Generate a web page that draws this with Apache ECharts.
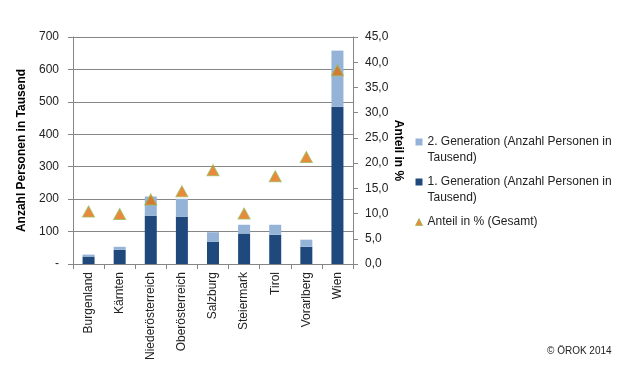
<!DOCTYPE html>
<html><head><meta charset="utf-8">
<script src="https://cdn.jsdelivr.net/npm/echarts@6/dist/echarts.min.js"></script>
<style>html,body{margin:0;padding:0;background:#fff}#c{width:626px;height:378px}</style>
</head><body><div id="c"></div>
<script>
var categories = ['Burgenland','Kärnten','Niederösterreich','Oberösterreich','Salzburg','Steiermark','Tirol','Vorarlberg','Wien'];
var gen1 = [23, 44, 149, 146, 69, 94, 90, 53, 485];
var gen2 = [6, 9, 59, 55, 29, 27, 31, 22, 173];
var anteil = [10.4, 9.9, 12.8, 14.4, 18.6, 10.0, 17.4, 21.2, 38.4];
var leftTicks = [0,100,200,300,400,500,600,700];
var rightTicks = [0,5,10,15,20,25,30,35,40,45];

var FONT = 'Liberation Sans';
var grey = '#868686';
var chart = echarts.init(document.getElementById('c'), null, {renderer:'canvas'});
chart.setOption({
  animation: false,
  textStyle: {fontFamily: FONT},
  grid: {left: 73, right: 273, top: 37, bottom: 114, containLabel: false},
  legend: {
    orient: 'vertical', left: 410, top: 113, itemGap: -8,
    itemWidth: 7, itemHeight: 7,
    textStyle: {fontFamily: FONT, fontSize: 12, color: '#222', lineHeight: 16},
    data: [
      {name: '2. Generation (Anzahl Personen in Tausend)', icon: 'rect'},
      {name: '1. Generation (Anzahl Personen in Tausend)', icon: 'rect'},
      {name: 'Anteil in % (Gesamt)', icon: 'triangle',
       itemStyle: {color: '#E46C0A', borderColor: '#9BBB59', borderWidth: 1}}
    ],
    formatter: function(n){
      if (n.indexOf('Generation') >= 0) return '\n' + n.replace(' Tausend', '\nTausend');
      return '\n' + n + '\n';
    }
  },
  xAxis: {
    type: 'category', data: categories,
    axisLine: {lineStyle: {color: grey}},
    axisTick: {show: true, alignWithLabel: false, length: 5, lineStyle: {color: grey}},
    axisLabel: {rotate: 90, interval: 0, color: '#222', fontSize: 12, margin: 8, fontFamily: FONT}
  },
  yAxis: [{
    type: 'value', min: 0, max: 700, interval: 100,
    name: 'Anzahl Personen in Tausend', nameLocation: 'middle', nameGap: 45,
    nameTextStyle: {fontWeight: 'bold', fontSize: 12, color: '#000', fontFamily: FONT},
    axisLine: {show: true, lineStyle: {color: grey}},
    axisTick: {show: true, length: 5, lineStyle: {color: grey}},
    splitLine: {show: true, lineStyle: {color: grey, width: 1}},
    axisLabel: {color: '#222', fontSize: 12, margin: 14, fontFamily: FONT,
      formatter: function(v){ return v === 0 ? '-' : String(v); }}
  }, {
    type: 'value', min: 0, max: 45, interval: 5, position: 'right',
    name: 'Anteil in %', nameLocation: 'middle', nameGap: 39, nameRotate: -90,
    nameTextStyle: {fontWeight: 'bold', fontSize: 12, color: '#000', fontFamily: FONT},
    axisLine: {show: true, lineStyle: {color: grey}},
    axisTick: {show: true, length: 5, lineStyle: {color: grey}},
    splitLine: {show: false},
    axisLabel: {color: '#222', fontSize: 12, margin: 12, fontFamily: FONT,
      formatter: function(v){ return v.toFixed(1).replace('.', ','); }}
  }],
  series: [{
    name: '1. Generation (Anzahl Personen in Tausend)', type: 'bar', stack: 'g',
    data: gen1, barWidth: 12, itemStyle: {color: '#1F497D'}
  }, {
    name: '2. Generation (Anzahl Personen in Tausend)', type: 'bar', stack: 'g',
    data: gen2, barWidth: 12, itemStyle: {color: '#95B3D7'}
  }, {
    name: 'Anteil in % (Gesamt)', type: 'scatter', yAxisIndex: 1,
    data: anteil, symbol: 'triangle', symbolSize: [12, 11],
    itemStyle: {color: '#E46C0A', borderColor: '#9BBB59', borderWidth: 1}, z: 5
  }],
  graphic: [{
    type: 'text', left: 547, top: 346,
    style: {text: '© ÖROK 2014', font: '10px ' + FONT, fill: '#222'}
  }]
});
</script></body></html>
